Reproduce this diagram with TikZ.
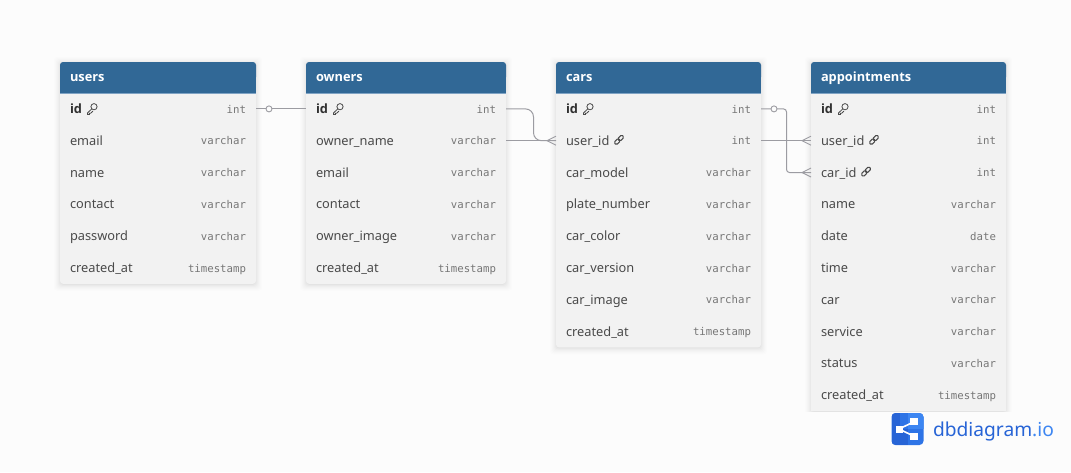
\documentclass[tikz,border=0pt]{standalone}
\usepackage{fontspec}
\setmainfont{Noto Sans}
\newfontfamily\typefont{DejaVu Sans Mono}
\newfontfamily\heavyfont{Open Sans}
\usetikzlibrary{positioning}
\definecolor{pagebg}{HTML}{FCFCFC}
\definecolor{headblue}{HTML}{316896}
\definecolor{headline}{HTML}{7FA3C4}
\definecolor{bodygray}{HTML}{F2F2F2}
\definecolor{labelgray}{HTML}{4A4A4A}
\definecolor{typegray}{HTML}{767676}
\definecolor{boldgray}{HTML}{303030}
\definecolor{wire}{HTML}{9C9CA2}
\definecolor{logoA}{HTML}{2764D6}
\definecolor{logoB}{HTML}{2E74E6}
\definecolor{logoC}{HTML}{3D86F2}
\tikzset{
  rowbox/.style={inner sep=0pt,outer sep=0pt,anchor=north west,minimum height=31.8pt},
  fieldtext/.style={inner sep=0pt,outer sep=0pt,anchor=base west,text=labelgray,font=\fontsize{12.8pt}{15pt}\selectfont},
  keytext/.style={fieldtext,text=boldgray,font=\heavyfont\fontsize{12.8pt}{15pt}\selectfont\bfseries},
  typetext/.style={inner sep=0pt,outer sep=0pt,anchor=base east,text=typegray,font=\typefont\fontsize{10.7pt}{14pt}\selectfont},
  headtext/.style={inner sep=0pt,outer sep=0pt,anchor=base west,text=white,font=\heavyfont\fontsize{12.8pt}{15pt}\selectfont\bfseries},
  wireline/.style={draw=wire,line width=1pt},
  ringend/.style={draw=wire,fill=pagebg,line width=.9pt},
  iconline/.style={draw=labelgray,line width=.8pt,line cap=round},
  linkline/.style={draw=labelgray,line width=1.05pt,rounded corners=1.4pt},
}
\catcode`\_=12
% table frame: name, x, width, rows, open bottom (1/0)
\newcommand\dbframe[5]{%
  \def\tbx{#2}\def\tbw{#3}\def\tbn{#1}%
  \pgfmathsetmacro\tbb{93+31.8*#4}%
  \begin{scope}
    \ifnum#5=1 \clip (#2-10,50) rectangle (#2+#3+10,\tbb); \fi
    \foreach \sp/\op in {6/.006,5/.008,4/.01,3/.012,2/.015,1/.02,0/.025}{
      \fill[black,opacity=\op,rounded corners=3pt]
        (#2-\sp,62-\sp+1) rectangle (#2+#3+\sp,\tbb+\sp+1);
    }
  \end{scope}
  \ifnum#5=1
    \fill[bodygray] (#2,90) rectangle (#2+#3,\tbb);
  \else
    \fill[bodygray,rounded corners=3pt] (#2,85) rectangle (#2+#3,\tbb);
  \fi
  \fill[headblue,rounded corners=3pt] (#2,62) rectangle (#2+#3,80);
  \fill[headblue] (#2,70) rectangle (#2+#3,93);
  \draw[headline,line width=.8pt] (#2,93) -- (#2+#3,93);
  \node[headtext] (#1-title) at (#2+10,81.5) {#1};
}
% row: field, index, type, style, node suffix
\newcommand\dbrow[4]{%
  \pgfmathsetmacro\rowy{93+31.8*#2}%
  \node[rowbox,minimum width=\tbw pt] (\tbn-#1) at (\tbx,\rowy) {};
  \node[#4] (\tbn-#1-label) at ([xshift=10pt,yshift=-4.6pt]\tbn-#1.west) {#1};
  \node[typetext] (\tbn-#1-type) at ([xshift=-10pt,yshift=-4.2pt]\tbn-#1.east) {#3};
}
\newcommand\keyicon[1]{%
  \begin{scope}[shift={([xshift=5pt,yshift=3.2pt]#1.base east)},x=1pt,y=-1pt]
    \draw[iconline] (7,-3.6) circle[radius=3.1];
    \draw[iconline] (4.8,-1.5) -- (0.6,2.6) -- (0.6,4.2) -- (2.4,4.2) -- (2.4,3) -- (3.6,3) -- (5.8,0.9);
  \end{scope}}
\newcommand\linkicon[1]{%
  \begin{scope}[shift={([xshift=4.6pt,yshift=4.5pt]#1.base east)},x=1pt,y=-1pt]
    \begin{scope}[rotate around={45:(5,-1)}]
      \draw[linkline] (-0.5,-2.8) rectangle (5.5,.8);
      \draw[linkline] (4.5,-2.8) rectangle (10.5,.8);
    \end{scope}
  \end{scope}}
\newcommand\crowfoot[1]{%
  \draw[wireline,line width=.9pt] ([yshift=4.5pt]#1.west) -- ([xshift=-9pt]#1.west) -- ([yshift=-4.5pt]#1.west);}
\begin{document}
\begin{tikzpicture}[x=1pt,y=-1pt]
\useasboundingbox (0,0) rectangle (1071,472);
\fill[pagebg] (0,0) rectangle (1071,472);

\dbframe{users}{60}{196}{6}{0}
\dbrow{id}{0}{int}{keytext}
\dbrow{email}{1}{varchar}{fieldtext}
\dbrow{name}{2}{varchar}{fieldtext}
\dbrow{contact}{3}{varchar}{fieldtext}
\dbrow{password}{4}{varchar}{fieldtext}
\dbrow{created_at}{5}{timestamp}{fieldtext}
\keyicon{users-id-label}

\dbframe{owners}{306}{200}{6}{0}
\dbrow{id}{0}{int}{keytext}
\dbrow{owner_name}{1}{varchar}{fieldtext}
\dbrow{email}{2}{varchar}{fieldtext}
\dbrow{contact}{3}{varchar}{fieldtext}
\dbrow{owner_image}{4}{varchar}{fieldtext}
\dbrow{created_at}{5}{timestamp}{fieldtext}
\keyicon{owners-id-label}

\dbframe{cars}{556}{205}{8}{0}
\dbrow{id}{0}{int}{keytext}
\dbrow{user_id}{1}{int}{fieldtext}
\dbrow{car_model}{2}{varchar}{fieldtext}
\dbrow{plate_number}{3}{varchar}{fieldtext}
\dbrow{car_color}{4}{varchar}{fieldtext}
\dbrow{car_version}{5}{varchar}{fieldtext}
\dbrow{car_image}{6}{varchar}{fieldtext}
\dbrow{created_at}{7}{timestamp}{fieldtext}
\keyicon{cars-id-label}
\linkicon{cars-user_id-label}

\dbframe{appointments}{811}{195}{10}{1}
\dbrow{id}{0}{int}{keytext}
\dbrow{user_id}{1}{int}{fieldtext}
\dbrow{car_id}{2}{int}{fieldtext}
\dbrow{name}{3}{varchar}{fieldtext}
\dbrow{date}{4}{date}{fieldtext}
\dbrow{time}{5}{varchar}{fieldtext}
\dbrow{car}{6}{varchar}{fieldtext}
\dbrow{service}{7}{varchar}{fieldtext}
\dbrow{status}{8}{varchar}{fieldtext}
\dbrow{created_at}{9}{timestamp}{fieldtext}
\keyicon{appointments-id-label}
\linkicon{appointments-user_id-label}
\linkicon{appointments-car_id-label}

% connectors
\draw[wireline] (users-id.east) -- (owners-id.west);
\node[ringend,circle,minimum size=6pt,inner sep=0pt,outer sep=0pt,right=10pt of users-id.east] (ringA) {};

\draw[wireline,rounded corners=8pt] (owners-id.east) -- ([xshift=27.5pt]owners-id.east) |- (cars-user_id.west);
\draw[wireline] (owners-owner_name.east) -- (cars-user_id.west);
\crowfoot{cars-user_id}

\draw[wireline,rounded corners=3pt] (cars-id.east) -- ([xshift=25.5pt]cars-id.east) |- (appointments-car_id.west);
\draw[wireline] (cars-user_id.east) -- (appointments-user_id.west);
\node[ringend,circle,minimum size=6pt,inner sep=0pt,outer sep=0pt,right=10pt of cars-id.east] (ringB) {};
\crowfoot{appointments-user_id}
\crowfoot{appointments-car_id}

% logo
\node[fill=logoB,rounded corners=4pt,minimum width=32pt,minimum height=32pt,inner sep=0pt,outer sep=0pt] (logo) at (907.5,429) {};
\begin{scope}
  \clip[rounded corners=4pt] (891.5,413) rectangle (923.5,445);
  \fill[logoA] (891.5,429) rectangle (907.5,445);
  \fill[logoA] (891.5,413) rectangle (899.5,429);
  \fill[logoC] (907.5,413) rectangle (923.5,429);
\end{scope}
\draw[white,line width=1.6pt] ([xshift=-8.5pt]logo.center) -- ([xshift=6pt,yshift=-7pt]logo.center);
\draw[white,line width=1.6pt] ([xshift=-8.5pt]logo.center) -- ([xshift=6pt,yshift=7pt]logo.center);
\fill[white] ([xshift=-12pt,yshift=-3.5pt]logo.center) rectangle ([xshift=-5pt,yshift=3.5pt]logo.center);
\fill[white] ([xshift=2pt,yshift=4pt]logo.center) rectangle ([xshift=10pt,yshift=11pt]logo.center);
\fill[white] ([xshift=2pt,yshift=-11pt]logo.center) rectangle ([xshift=10pt,yshift=-4pt]logo.center);
\node[inner sep=0pt,outer sep=0pt,anchor=base west,font=\fontsize{19.2pt}{24pt}\selectfont,text=logoA] (logotext) at (933,436) {dbdiagram\textcolor{logoC}{.io}};
\end{tikzpicture}
\end{document}
